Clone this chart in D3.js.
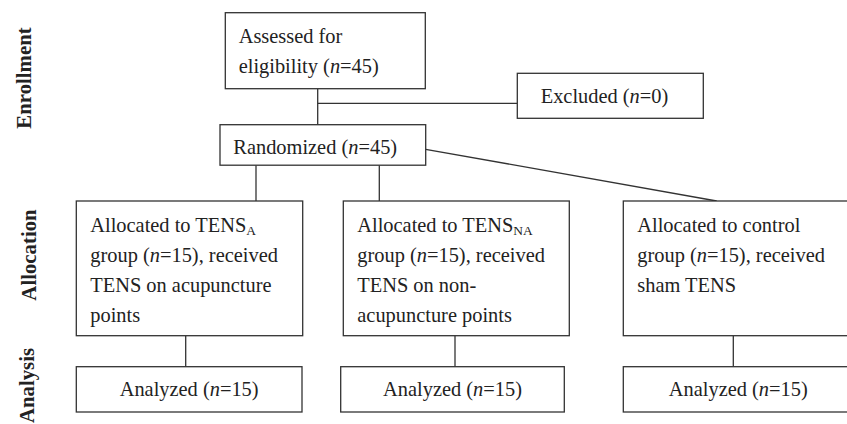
<!DOCTYPE html>
<html>
<head>
<meta charset="utf-8">
<script src="https://cdn.jsdelivr.net/npm/d3@7"></script>
<style>
  body { margin: 0; background: #fff; }
  svg { display: block; }
  text { font-family: "Liberation Serif", "DejaVu Serif", serif; fill: #222; }
  .stage { font-weight: bold; font-size: 20.8px; }
  .box text { font-size: 20.4px; }
  rect { fill: #fff; stroke: #333; stroke-width: 1.3; }
  line { stroke: #333; stroke-width: 1.3; }
</style>
</head>
<body>
<svg id="chart"></svg>
<script>
// data
const stageLabels = ["Enrollment", "Allocation", "Analysis"];
const assessedN = 45;
const excludedN = 0;
const randomizedN = 45;
const groupNames = ["TENS_{A}", "TENS_{NA}", "control"];
const groupN = [15, 15, 15];
const groupTreatment = [
  ["TENS on acupuncture", "points"],
  ["TENS on non-", "acupuncture points"],
  ["sham TENS"]
];
const analyzedN = [15, 15, 15];

// layout
const size = { width: 847, height: 424 };
const lineGap = 29.8;
const stageBase = [30.5, 36, 34];
const stageMid = [78, 255, 385.5];

const col = d3.scaleOrdinal().domain([0, 1, 2]).range([76.3, 343.3, 623.3]);
const colW = d3.scaleOrdinal().domain([0, 1, 2]).range([226.4, 226, 230]);
const anaX = d3.scaleOrdinal().domain([0, 1, 2]).range([76.3, 340.7, 623.3]);
const anaW = d3.scaleOrdinal().domain([0, 1, 2]).range([225.7, 223.6, 230]);
const anaLinkX = d3.scaleOrdinal().domain([0, 1, 2]).range([185.7, 455, 733.3]);
const randLinkX = [256, 379.3];

const assessedBox = { x: 225.3, y: 12.7, w: 200, h: 76 };
const excludedBox = { x: 517.3, y: 73.3, w: 186, h: 45 };
const randomBox = { x: 220, y: 124.7, w: 205.7, h: 40.5 };
const allocTop = 201, allocH = 134.7;
const anaTop = 366.7, anaH = 45.3;

const svg = d3.select("#chart").attr("width", size.width).attr("height", size.height);

// "*n*" -> italic, "_{A}" -> subscript
const addRich = (textSel, str) => {
  str.split(/(\*[^*]+\*|_\{[^}]+\})/).filter(s => s).forEach(part => {
    if (part.startsWith("*")) {
      textSel.append("tspan").attr("font-style", "italic").text(part.slice(1, -1));
    } else if (part.startsWith("_{")) {
      textSel.append("tspan").attr("font-size", "13.5px").attr("dy", 3).text(part.slice(2, -1));
      textSel.append("tspan").attr("dy", -3).text("");
    } else {
      textSel.append("tspan").text(part);
    }
  });
};

const drawLine = (x1, y1, x2, y2) =>
  svg.append("line").attr("x1", x1).attr("y1", y1).attr("x2", x2).attr("y2", y2);

const drawBox = (b, lines, tx, firstBase, anchor) => {
  const g = svg.append("g").attr("class", "box");
  g.append("rect").attr("x", b.x).attr("y", b.y).attr("width", b.w).attr("height", b.h);
  lines.forEach((ln, i) => {
    const t = g.append("text")
      .attr("x", tx)
      .attr("y", firstBase + i * lineGap)
      .attr("text-anchor", anchor || "start");
    addRich(t, ln);
  });
};

// connectors
const assessedLinkX = 317.7;
drawLine(assessedLinkX, assessedBox.y + assessedBox.h, assessedLinkX, randomBox.y);
drawLine(assessedLinkX, 103.3, excludedBox.x, 103.3);
randLinkX.forEach(x => drawLine(x, randomBox.y + randomBox.h, x, allocTop));
drawLine(randomBox.x + randomBox.w, 149.3, 716.7, allocTop);
groupN.forEach((_, i) => drawLine(anaLinkX(i), allocTop + allocH, anaLinkX(i), anaTop));

// boxes
drawBox(assessedBox, ["Assessed for", `eligibility (*n*=${assessedN})`], 238.7, 43);
drawBox(excludedBox, [`Excluded (*n*=${excludedN})`], 540.7, 103.3);
drawBox(randomBox, [`Randomized (*n*=${randomizedN})`], 233.3, 154.3);

groupNames.forEach((name, i) => {
  const lines = [`Allocated to ${name}`, `group (*n*=${groupN[i]}), received`, ...groupTreatment[i]];
  drawBox({ x: col(i), y: allocTop, w: colW(i), h: allocH }, lines, col(i) + 14, allocTop + 31.3);
});

analyzedN.forEach((n, i) => {
  drawBox({ x: anaX(i), y: anaTop, w: anaW(i), h: anaH }, [`Analyzed (*n*=${n})`],
    anaX(i) + anaW(i) / 2, anaTop + 29.3, "middle");
});

// stage labels
svg.selectAll(".stage")
  .data(stageLabels)
  .enter()
  .append("text")
  .attr("class", "stage")
  .attr("text-anchor", "middle")
  .attr("transform", (d, i) => `translate(${stageBase[i]},${stageMid[i]}) rotate(-90)`)
  .text(d => d);
</script>
</body>
</html>
